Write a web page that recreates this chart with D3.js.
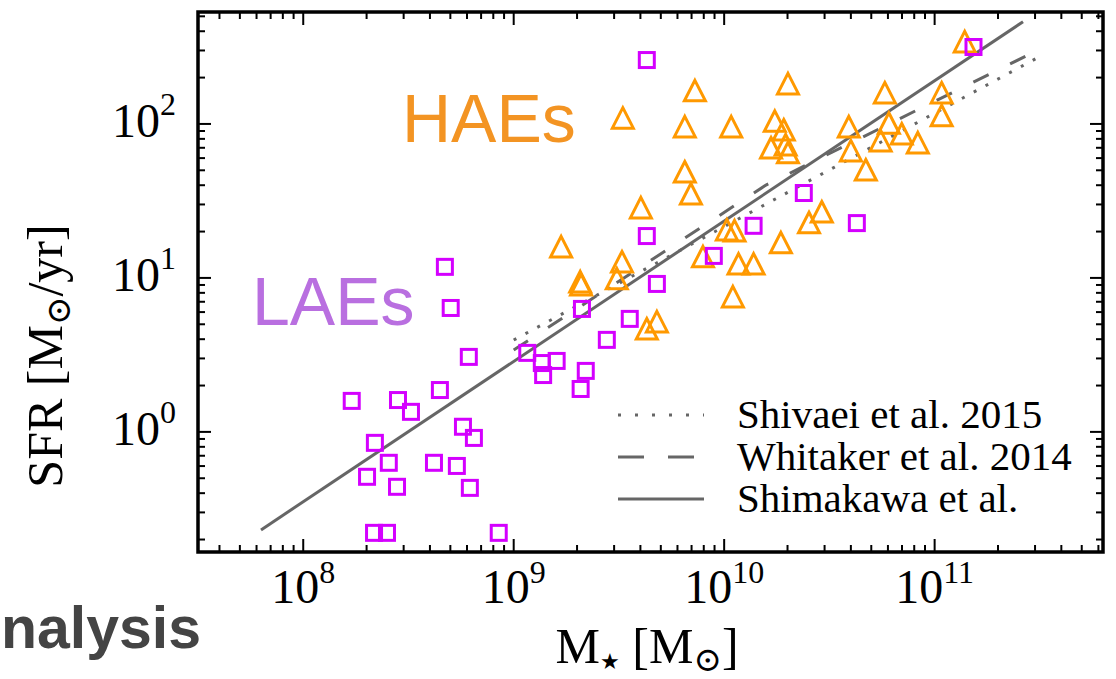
<!DOCTYPE html>
<html>
<head>
<meta charset="utf-8">
<script src="https://cdn.jsdelivr.net/npm/d3@7"></script>
<style>
  html, body { margin: 0; padding: 0; background: #fff; }
  svg { display: block; }
  .serif { font-family: "Liberation Serif", "Times New Roman", "DejaVu Serif", serif; fill: #000; }
  .sans { font-family: "Liberation Sans", Arial, Helvetica, sans-serif; }
</style>
</head>
<body>
<svg id="chart" width="1116" height="679"></svg>
<script>
// SFR vs stellar mass: HAEs (triangles) and LAEs (squares) with three main-sequence lines.

// -------- data --------
const haeMass = [1.39e11, 7.26e9, 3.30e9, 6.50e9, 1.08e10, 2.01e10, 1.74e10, 1.92e10, 1.67e10, 1.96e10,
                 2.01e10, 5.80e10, 1.08e11, 1.08e11, 3.91e10, 6.06e10, 6.98e10, 5.54e10, 8.32e10, 4.00e10,
                 4.71e10, 6.50e9, 6.95e9, 4.02e9, 2.91e10, 2.53e10, 1.03e10, 1.12e10, 1.86e10, 1.68e9,
                 3.27e9, 3.09e9, 2.07e9, 2.09e9, 7.93e9, 1.17e10, 1.38e10, 1.10e10, 4.79e9, 4.29e9];
const haeSfr  = [341, 164, 109, 95.7, 95.7, 182, 104, 91.4, 69.8, 73.1,
                 64.9, 159, 159, 113, 95.7, 101, 86.1, 77.6, 75.3, 66.8,
                 50.2, 48.7, 35.1, 28.5, 26.8, 22.8, 20.5, 20.2, 16.9, 15.9,
                 12.7, 9.86, 9.42, 9.01, 13.7, 12.3, 12.3, 7.53, 5.18, 4.66];

const laeMass = [1.53e11, 4.29e9, 2.39e10, 1.38e10, 4.27e10, 4.29e9, 8.93e9, 4.79e9, 4.71e8, 5.02e8,
                 2.11e9, 3.56e9, 2.77e9, 6.12e8, 1.16e9, 1.60e9, 1.36e9, 1.38e9, 2.20e9, 2.08e9,
                 4.46e8, 1.70e8, 2.82e8, 3.25e8, 5.74e8, 6.47e8, 2.19e8, 2.55e8, 2.01e8, 2.79e8,
                 4.18e8, 5.37e8, 6.19e8, 2.17e8, 2.50e8, 8.49e8];
const laeSfr  = [316, 260, 35.6, 21.8, 22.7, 18.7, 13.9, 9.14, 11.8, 6.38,
                 6.29, 5.42, 3.96, 3.07, 3.26, 2.89, 2.80, 2.34, 2.49, 1.90,
                 1.87, 1.59, 1.61, 1.35, 1.08, 0.914, 0.849, 0.630, 0.511, 0.440,
                 0.630, 0.601, 0.433, 0.221, 0.221, 0.221];

// relations as [mass, sfr] vertices (straight in log-log)
const shivaeiLine   = [[1.0e9, 3.95], [3.05e11, 267]];
const whitakerLine  = [[1.0e9, 3.40], [1.58e10, 40.1], [3.1e11, 302]];
const shimakawaLine = [[6.3e7, 0.231], [2.63e11, 461]];

const legendLabels = ['Shivaei et al. 2015', 'Whitaker et al. 2014', 'Shimakawa et al.'];
const xTickExps = [8, 9, 10, 11];
const yTickExps = [0, 1, 2];

// -------- layout --------
const svg = d3.select('#chart');
const L = 198, R = 1103, T = 12, B = 552;
const GRAY = '#666666';

const x = d3.scaleLog().domain([Math.pow(10, 7.5), Math.pow(10, 11.8)]).range([L, R]);
const y = d3.scaleLog().domain([Math.pow(10, -0.78), Math.pow(10, 2.727)]).range([B, T]);

svg.append('defs').append('clipPath').attr('id', 'plotclip')
  .append('rect').attr('x', L).attr('y', T).attr('width', R - L).attr('height', B - T);

// -------- ticks (inward, all four sides) --------
function minorTicks(lo, hi) {
  const out = [];
  for (let e = Math.floor(Math.log10(lo)); e <= Math.ceil(Math.log10(hi)); e++) {
    for (let m = 1; m <= 9; m++) {
      const v = m * Math.pow(10, e);
      if (v >= lo && v <= hi) out.push({ v, major: m === 1 });
    }
  }
  return out;
}
const xt = minorTicks(...x.domain());
const yt = minorTicks(...y.domain());
const ticks = svg.append('g').attr('stroke', '#000').attr('stroke-width', 2);
ticks.selectAll('line.xb').data(xt).join('line')
  .attr('x1', d => x(d.v)).attr('x2', d => x(d.v))
  .attr('y1', B).attr('y2', d => B - (d.major ? 13 : 7));
ticks.selectAll('line.xt').data(xt).join('line')
  .attr('x1', d => x(d.v)).attr('x2', d => x(d.v))
  .attr('y1', T).attr('y2', d => T + (d.major ? 13 : 7));
ticks.selectAll('line.yl').data(yt).join('line')
  .attr('y1', d => y(d.v)).attr('y2', d => y(d.v))
  .attr('x1', L).attr('x2', d => L + (d.major ? 13 : 7));
ticks.selectAll('line.yr').data(yt).join('line')
  .attr('y1', d => y(d.v)).attr('y2', d => y(d.v))
  .attr('x1', R).attr('x2', d => R - (d.major ? 13 : 7));

// tick labels 10^n
svg.append('g').selectAll('text').data(xTickExps).join('text')
  .attr('class', 'serif').attr('font-size', 48).attr('text-anchor', 'middle')
  .attr('x', e => x(Math.pow(10, e))).attr('y', B + 51)
  .each(function (e) {
    const t = d3.select(this);
    t.append('tspan').text('10');
    t.append('tspan').attr('dy', -20).attr('font-size', 32).text(e);
  });
svg.append('g').selectAll('text').data(yTickExps).join('text')
  .attr('class', 'serif').attr('font-size', 48).attr('text-anchor', 'end')
  .attr('x', 176).attr('y', e => y(Math.pow(10, e)) + 13)
  .each(function (e) {
    const t = d3.select(this);
    t.append('tspan').text('10');
    t.append('tspan').attr('dy', -22).attr('font-size', 32).text(e);
  });

// -------- relations --------
const line = d3.line().x(d => x(d[0])).y(d => y(d[1]));
const lines = svg.append('g').attr('clip-path', 'url(#plotclip)')
  .attr('fill', 'none').attr('stroke', GRAY).attr('stroke-width', 3);
lines.append('path').datum(shivaeiLine).attr('d', line).attr('stroke-dasharray', '3,10.4');
lines.append('path').datum(whitakerLine).attr('d', line).attr('stroke-dasharray', '17,24');
lines.append('path').datum(shimakawaLine).attr('d', line);

// -------- markers --------
const haes = haeMass.map((m, i) => [m, haeSfr[i]]);
const laes = laeMass.map((m, i) => [m, laeSfr[i]]);

svg.append('g').selectAll('path').data(haes).join('path')
  .attr('transform', d => `translate(${x(d[0])},${y(d[1])})`)
  .attr('d', 'M0,-10.5L10.5,10L-10.5,10Z')
  .attr('fill', 'none').attr('stroke', '#ff9900').attr('stroke-width', 3);

svg.append('g').selectAll('rect').data(laes).join('rect')
  .attr('x', d => x(d[0]) - 7.5).attr('y', d => y(d[1]) - 7.5)
  .attr('width', 15).attr('height', 15)
  .attr('fill', 'none').attr('stroke', '#d400ff').attr('stroke-width', 3);

// -------- frame --------
svg.append('rect').attr('x', L).attr('y', T).attr('width', R - L).attr('height', B - T)
  .attr('fill', 'none').attr('stroke', '#000').attr('stroke-width', 3.5);

// -------- legend --------
const legY = [415, 457, 499];
const legDash = ['3,14', '26,24', null];
const leg = svg.append('g');
legendLabels.forEach((lab, i) => {
  leg.append('line').attr('x1', 618).attr('x2', 704).attr('y1', legY[i]).attr('y2', legY[i])
    .attr('stroke', GRAY).attr('stroke-width', 3)
    .attr('stroke-dasharray', legDash[i]);
  leg.append('text').attr('class', 'serif').attr('font-size', 41)
    .attr('x', 737).attr('y', legY[i] + 13).text(lab);
});

// -------- group labels --------
svg.append('text').attr('class', 'sans').attr('font-size', 68).attr('fill', '#f39423')
  .attr('x', 402).attr('y', 142).text('HAEs');
svg.append('text').attr('class', 'sans').attr('font-size', 68).attr('fill', '#b96fe0')
  .attr('x', 252).attr('y', 325).text('LAEs');

// -------- axis titles --------
const xl = svg.append('text').attr('class', 'serif').attr('font-size', 50)
  .attr('text-anchor', 'middle').attr('x', 647).attr('y', 663);
xl.append('tspan').text('M');
xl.append('tspan').attr('dy', 6).attr('font-size', 22).text('\u2605');
xl.append('tspan').attr('dy', -6).text(' [M');
xl.append('tspan').attr('dy', 8).attr('font-size', 34).text('\u2299');
xl.append('tspan').attr('dy', -8).text(']');

const yl = svg.append('text').attr('class', 'serif').attr('font-size', 50)
  .attr('text-anchor', 'middle')
  .attr('transform', 'translate(62,356) rotate(-90)');
yl.append('tspan').text('SFR [M');
yl.append('tspan').attr('dy', 8).attr('font-size', 34).text('\u2299');
yl.append('tspan').attr('dy', -8).text('/yr]');

// slide text at bottom-left
svg.append('text').attr('class', 'sans').attr('font-size', 59).attr('font-weight', 'bold')
  .attr('fill', '#444444').attr('x', 1).attr('y', 648)
  .text('nalysis');
</script>
</body>
</html>
